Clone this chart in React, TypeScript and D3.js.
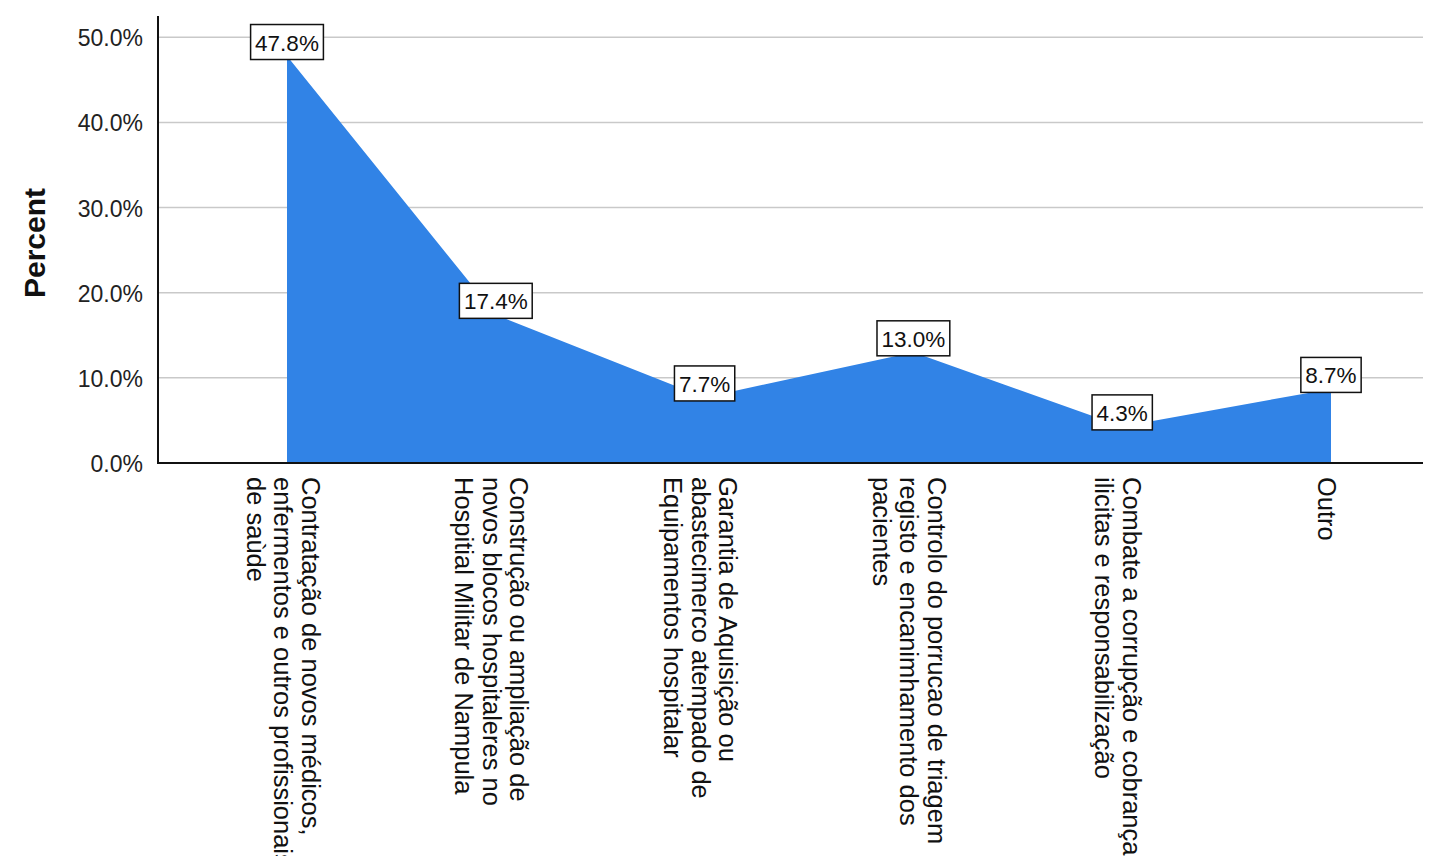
import { useEffect, useRef } from "react";
import * as d3 from "d3";

const categories = [
  ["Contratação de novos médicos,", "enfermentos e outros profissionais", "de saùde"],
  ["Construção ou ampliação de", "novos blocos hospitaleres no", "Hospitial Militar de Nampula"],
  ["Garantia de Aquisição ou", "abastecimerco atempado de", "Equipamentos hospitalar"],
  ["Controlo do porrucao de triagem", "registo e encanimhamento dos", "pacientes"],
  ["Combate a corrupção e cobranças", "ilicitas e responsabilização"],
  ["Outro"],
];
const percents = [47.8, 17.4, 7.7, 13.0, 4.3, 8.7];
const yTicks = [0, 10, 20, 30, 40, 50];

const FONT = "'Liberation Sans', Arial, Helvetica, sans-serif";

export default function App() {
  const svgRef = useRef<SVGSVGElement | null>(null);

  useEffect(() => {
    if (!svgRef.current) return;
    document.body.style.margin = "0";

    const W = 1440, H = 856;
    const left = 158, right = 1423, top = 16, bottom = 463;

    const svg = d3.select(svgRef.current);
    svg.selectAll("*").remove();
    svg.attr("width", W).attr("height", H).attr("viewBox", `0 0 ${W} ${H}`);
    svg.append("rect").attr("width", W).attr("height", H).attr("fill", "#ffffff");

    const idx = categories.map((_, i) => String(i));
    const x = d3.scalePoint<string>().domain(idx).range([287, 1331]);
    const y = d3.scaleLinear().domain([0, 52.5]).range([bottom, top]);

    // gridlines
    svg.append("g").selectAll("line").data(yTicks.filter((t) => t > 0)).join("line")
      .attr("x1", left).attr("x2", right)
      .attr("y1", (d) => y(d)).attr("y2", (d) => y(d))
      .attr("stroke", "#c9c9c9").attr("stroke-width", 1.5);

    // area
    const area = d3.area<number>()
      .x((_, i) => x(String(i)) as number)
      .y0(y(0))
      .y1((d) => y(d));
    svg.append("path").datum(percents).attr("d", area as any).attr("fill", "#3183e6");

    // axes
    svg.append("line").attr("x1", left).attr("x2", left).attr("y1", top).attr("y2", bottom + 1)
      .attr("stroke", "#111").attr("stroke-width", 2);
    svg.append("line").attr("x1", left - 1).attr("x2", right).attr("y1", bottom).attr("y2", bottom)
      .attr("stroke", "#111").attr("stroke-width", 2);

    // y tick labels
    svg.append("g").selectAll("text").data(yTicks).join("text")
      .attr("x", 143).attr("y", (d) => y(d) + 1)
      .attr("text-anchor", "end").attr("dominant-baseline", "central")
      .attr("font-family", FONT).attr("font-size", 23).attr("fill", "#222")
      .text((d) => `${d.toFixed(1)}%`);

    // y title
    svg.append("text")
      .attr("transform", `translate(45,243) rotate(-90)`)
      .attr("text-anchor", "middle")
      .attr("font-family", FONT).attr("font-size", 30).attr("font-weight", 700).attr("fill", "#111")
      .text("Percent");

    // category labels (rotated, reading downward)
    const lh = 27.5;
    categories.forEach((lines, i) => {
      const px = (x(String(i)) as number) - 4;
      const t = svg.append("text")
        .attr("transform", `translate(${px},477) rotate(90)`)
        .attr("font-family", FONT).attr("font-size", 25.5).attr("fill", "#111")
        .attr("dominant-baseline", "central");
      lines.forEach((line, j) => {
        t.append("tspan").attr("x", 0)
          .attr("dy", j === 0 ? -((lines.length - 1) / 2) * lh : lh)
          .text(line);
      });
    });

    // data labels
    percents.forEach((v, i) => {
      const cx = x(String(i)) as number;
      const cy = y(v) - 14;
      const g = svg.append("g");
      const rect = g.append("rect");
      const txt = g.append("text")
        .attr("x", cx).attr("y", cy + 1)
        .attr("text-anchor", "middle").attr("dominant-baseline", "central")
        .attr("font-family", FONT).attr("font-size", 22.5).attr("fill", "#111")
        .text(`${v.toFixed(1)}%`);
      const tw = (txt.node() as SVGTextElement).getComputedTextLength();
      const bw = tw + 9, bh = 35;
      rect.attr("x", cx - bw / 2).attr("y", cy - bh / 2).attr("width", bw).attr("height", bh)
        .attr("fill", "#fff").attr("stroke", "#111").attr("stroke-width", 1.5);
    });
  }, []);

  return <svg ref={svgRef} style={{ display: "block" }} />;
}
